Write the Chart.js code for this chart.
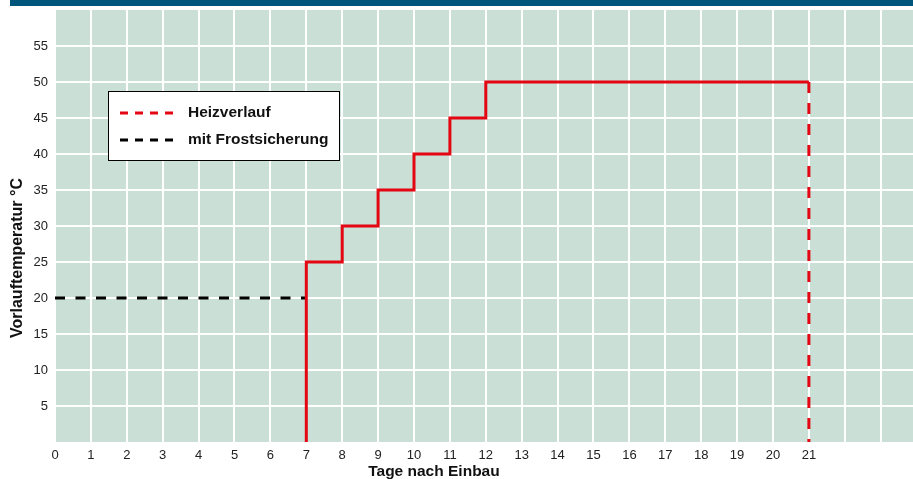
<!DOCTYPE html>
<html>
<head>
<meta charset="utf-8">
<script src="https://cdn.jsdelivr.net/npm/chart.js@4.4.1/dist/chart.umd.min.js"></script>
<style>
html, body { margin: 0; padding: 0; background: #fff; }
#wrap { position: relative; width: 913px; height: 479px; }
#band { position: absolute; left: 10px; top: 0; width: 903px; height: 6px; background: #00567a; }
canvas { position: absolute; left: 0; top: 0; }
</style>
</head>
<body>
<div id="wrap">
  <canvas id="chart" width="913" height="479"></canvas>
  <div id="band"></div>
</div>
<script>
// Heizverlauf (stepped), points in days / °C
const heizTage = [7, 7, 8, 9, 10, 11, 12, 21];
const heizTemp = [0, 25, 30, 35, 40, 45, 50, 50];
// end of heating, dashed drop
const endeTage = [21, 21];
const endeTemp = [50, 0];
// Frostsicherung
const frostTage = [0, 7];
const frostTemp = [20, 20];

const xTicks = [0, 1, 2, 3, 4, 5, 6, 7, 8, 9, 10, 11, 12, 13, 14, 15, 16, 17, 18, 19, 20, 21, 22, 23];
const xLabels = ['0', '1', '2', '3', '4', '5', '6', '7', '8', '9', '10', '11', '12', '13', '14', '15', '16', '17', '18', '19', '20', '21'];
const yTicks = [5, 10, 15, 20, 25, 30, 35, 40, 45, 50, 55];

const RED = '#e30613';
const FONT = "'Liberation Sans', Arial, sans-serif";

function pts(xs, ys) {
    return xs.map((x, i) => ({ x: x, y: ys[i] }));
}

const plotBg = {
    id: 'plotBg',
    beforeDraw(chart) {
        const { ctx, chartArea: a } = chart;
        ctx.save();
        ctx.fillStyle = '#cadfd5';
        ctx.fillRect(a.left, a.top, a.right - a.left, a.bottom - a.top);
        ctx.restore();
    }
};

const extras = {
    id: 'extras',
    afterDraw(chart) {
        const ctx = chart.ctx;
        const xs = chart.scales.x;
        ctx.save();
        ctx.fillStyle = '#111';
        ctx.font = 'bold 15.5px ' + FONT;
        ctx.textAlign = 'center';
        ctx.textBaseline = 'middle';
        // x title, centred on the 0..21 range
        ctx.fillText('Tage nach Einbau', (xs.getPixelForValue(0) + xs.getPixelForValue(21)) / 2 + 2, 472);
        // y title
        ctx.font = 'bold 16px ' + FONT;
        ctx.translate(18, 258);
        ctx.rotate(-Math.PI / 2);
        ctx.fillText('Vorlauftemperatur °C', 0, 0);
        ctx.restore();

        // legend box
        ctx.save();
        ctx.fillStyle = '#fff';
        ctx.fillRect(108, 91, 232, 70);
        ctx.strokeStyle = '#000';
        ctx.lineWidth = 1;
        ctx.strokeRect(108.5, 91.5, 231, 69);
        const items = [['Heizverlauf', RED, 113], ['mit Frostsicherung', '#000', 140]];
        items.forEach(([label, col, y]) => {
            ctx.strokeStyle = col;
            ctx.lineWidth = 3;
            ctx.setLineDash([8, 7]);
            ctx.beginPath();
            ctx.moveTo(120, y);
            ctx.lineTo(178, y);
            ctx.stroke();
            ctx.setLineDash([]);
            ctx.fillStyle = '#111';
            ctx.font = 'bold 15.5px ' + FONT;
            ctx.textAlign = 'left';
            ctx.textBaseline = 'middle';
            ctx.fillText(label, 188, y);
        });
        ctx.restore();
    }
};

new Chart(document.getElementById('chart'), {
    type: 'scatter',
    data: {
        datasets: [
            {
                label: 'Heizverlauf',
                data: pts(heizTage, heizTemp),
                showLine: true,
                stepped: 'before',
                borderColor: RED,
                borderWidth: 3,
                pointRadius: 0
            },
            {
                label: 'Heizende',
                data: pts(endeTage, endeTemp),
                showLine: true,
                borderColor: RED,
                borderWidth: 3,
                borderDash: [11, 10],
                pointRadius: 0
            },
            {
                label: 'mit Frostsicherung',
                data: pts(frostTage, frostTemp),
                showLine: true,
                borderColor: '#000',
                borderWidth: 3,
                borderDash: [10, 10.5],
                pointRadius: 0
            }
        ]
    },
    options: {
        responsive: false,
        animation: false,
        layout: { padding: { top: 10, left: 0, right: 0, bottom: 0 } },
        plugins: {
            legend: { display: false },
            tooltip: { enabled: false }
        },
        scales: {
            x: {
                type: 'linear',
                min: 0,
                max: 23.9,
                afterBuildTicks: s => { s.ticks = xTicks.map(v => ({ value: v })); },
                afterFit: s => { s.height = 37; s.paddingLeft = 0; s.paddingRight = 0; },
                border: { display: false },
                grid: { color: '#ffffff', lineWidth: 2, drawTicks: false },
                ticks: {
                    autoSkip: false,
                    maxRotation: 0,
                    padding: 6,
                    color: '#222',
                    font: { family: FONT, size: 13 },
                    callback: (v, i) => xLabels[i] || ''
                }
            },
            y: {
                min: 0,
                max: 60,
                afterBuildTicks: s => { s.ticks = yTicks.map(v => ({ value: v })); },
                afterFit: s => { s.width = 55; s.paddingTop = 0; s.paddingBottom = 0; },
                border: { display: false },
                grid: { color: '#ffffff', lineWidth: 2, drawTicks: false },
                ticks: {
                    padding: 7,
                    color: '#222',
                    font: { family: FONT, size: 13 }
                }
            }
        }
    },
    plugins: [plotBg, extras]
});
</script>
</body>
</html>
